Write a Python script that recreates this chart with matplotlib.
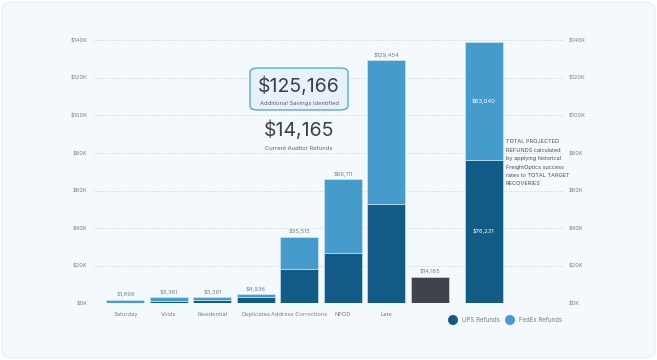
import matplotlib
matplotlib.use("Agg")
import matplotlib.pyplot as plt
from matplotlib.patches import FancyBboxPatch, Ellipse
import numpy as np

plt.rcParams['font.family'] = ['Inter', 'DejaVu Sans']

categories = ["Saturday", "Voids", "Residential", "Duplicates", "Address Corrections", "NPOD", "Late"]
totals = [1899, 3361, 3361, 4936, 35515, 66111, 129454]
ups_values = [0, 1100, 1600, 3300, 18000, 27000, 53000]
fedex_values = [t - u for t, u in zip(totals, ups_values)]
current_refunds = 14165
projected_ups = 76231
projected_fedex = 63040
additional_savings = 125166
y_ticks = [0, 20000, 40000, 60000, 80000, 100000, 120000, 140000]
y_tick_labels = ["$0K", "$20K", "$40K", "$60K", "$80K", "$100K", "$120K", "$140K"]

DARK = "#135B87"
LIGHT = "#459CCC"
GRAY = "#404349"
TXT = "#7A7F87"

W, H = 657, 360
fig = plt.figure(figsize=(W / 100, H / 100), dpi=100)
fig.patch.set_facecolor("white")
card = FancyBboxPatch((2 / W, 2 / H), (W - 4) / W, (H - 4) / H,
                      boxstyle="round,pad=0,rounding_size=0.02",
                      transform=fig.transFigure, facecolor="#F3F9FD",
                      edgecolor="#E6EEF4", linewidth=0.8, zorder=-10)
fig.patches.append(card)

ax = fig.add_axes([93 / W, (H - 303.3) / H, 470 / W, 263 / H])
ax.set_zorder(1)
ax.set_facecolor("none")
ax.set_xlim(-0.747, 10.06)
ax.set_ylim(0, 140000)

x = np.arange(len(categories))
bw = 0.874
ax.bar(x, ups_values, bw, color=DARK, edgecolor="#DDEBF5", linewidth=0.4, zorder=3)
ax.bar(x, fedex_values, bw, bottom=ups_values, color=LIGHT, edgecolor="#DDEBF5", linewidth=0.4, zorder=3)
for xi, t in zip(x, totals):
    ax.text(xi, t + 1200, f"${t:,}", ha="center", va="bottom", fontsize=4.2, color=TXT, zorder=4)

gx = len(categories)
ax.bar([gx], [current_refunds], bw, color=GRAY, edgecolor="#C9CDD2", linewidth=0.6, zorder=3)
ax.text(gx, current_refunds + 1200, f"${current_refunds:,}", ha="center", va="bottom", fontsize=4.2, color=TXT, zorder=4)

tx = 8.24
ax.bar([tx], [projected_ups], bw, color=DARK, edgecolor="#DDEBF5", linewidth=0.4, zorder=3)
ax.bar([tx], [projected_fedex], bw, bottom=[projected_ups], color=LIGHT, edgecolor="#DDEBF5", linewidth=0.4, zorder=3)
ax.text(tx, projected_ups / 2, f"${projected_ups:,}", ha="center", va="center", fontsize=4.2, color="white", zorder=4)
ax.text(tx, projected_ups + projected_fedex / 2, f"${projected_fedex:,}", ha="center", va="center", fontsize=4.2, color="white", zorder=4)

ax.set_xticks(x)
ax.set_xticklabels(categories, fontsize=4.15, color=TXT)
ax.set_yticks(y_ticks)
ax.set_yticklabels(y_tick_labels, fontsize=4.1, color=TXT)
ax.tick_params(axis="y", length=0, pad=4, labelleft=True, labelright=True)
ax.tick_params(axis="x", length=0, pad=6)
ax.grid(axis="y", color="#C9D0D6", linestyle=(0, (1.2, 1.6)), linewidth=0.6, zorder=1)
for s in ax.spines.values():
    s.set_visible(False)

# annotations
box = FancyBboxPatch((250 / W, (H - 110) / H), 98 / W, 42 / H,
                     boxstyle="round,pad=0,rounding_size=0.012",
                     transform=fig.transFigure, facecolor="#E6F1FA",
                     edgecolor="#5BA8D8", linewidth=1.0, zorder=5)
fig.patches.append(box)
fig.text(299 / W, (H - 86) / H, f"${additional_savings:,}", ha="center", va="center",
         fontsize=14, color="#3C4047", zorder=6)
fig.text(299 / W, (H - 103) / H, "Additional Savings Identified", ha="center", va="center",
         fontsize=4.2, color="#5B6068", zorder=6)
fig.text(299 / W, (H - 130) / H, f"${current_refunds:,}", ha="center", va="center",
         fontsize=14, color="#3C4047", zorder=6)
fig.text(299 / W, (H - 148) / H, "Current Auditor Refunds", ha="center", va="center",
         fontsize=4.2, color="#5B6068", zorder=6)

note = ("TOTAL PROJECTED\nREFUNDS calculated\nby applying historical\n"
        "FreightOptics success\nrates to TOTAL TARGET\nRECOVERIES")
fig.text(506 / W, (H - 139.5) / H, note, ha="left", va="top", fontsize=4.0,
         color="#4A4F57", linespacing=1.85, zorder=6)

# legend
for cx, col, lab in [(453, DARK, "UPS Refunds"), (510, LIGHT, "FedEx Refunds")]:
    fig.patches.append(Ellipse((cx / W, (H - 320) / H), 10 / W, 10 / H,
                               transform=fig.transFigure, facecolor=col,
                               edgecolor="none", zorder=6))
    fig.text((cx + 9) / W, (H - 320) / H, lab, ha="left", va="center", fontsize=4.4,
             color=TXT, zorder=6)

fig.savefig("out.png", dpi=100, facecolor=fig.get_facecolor())
